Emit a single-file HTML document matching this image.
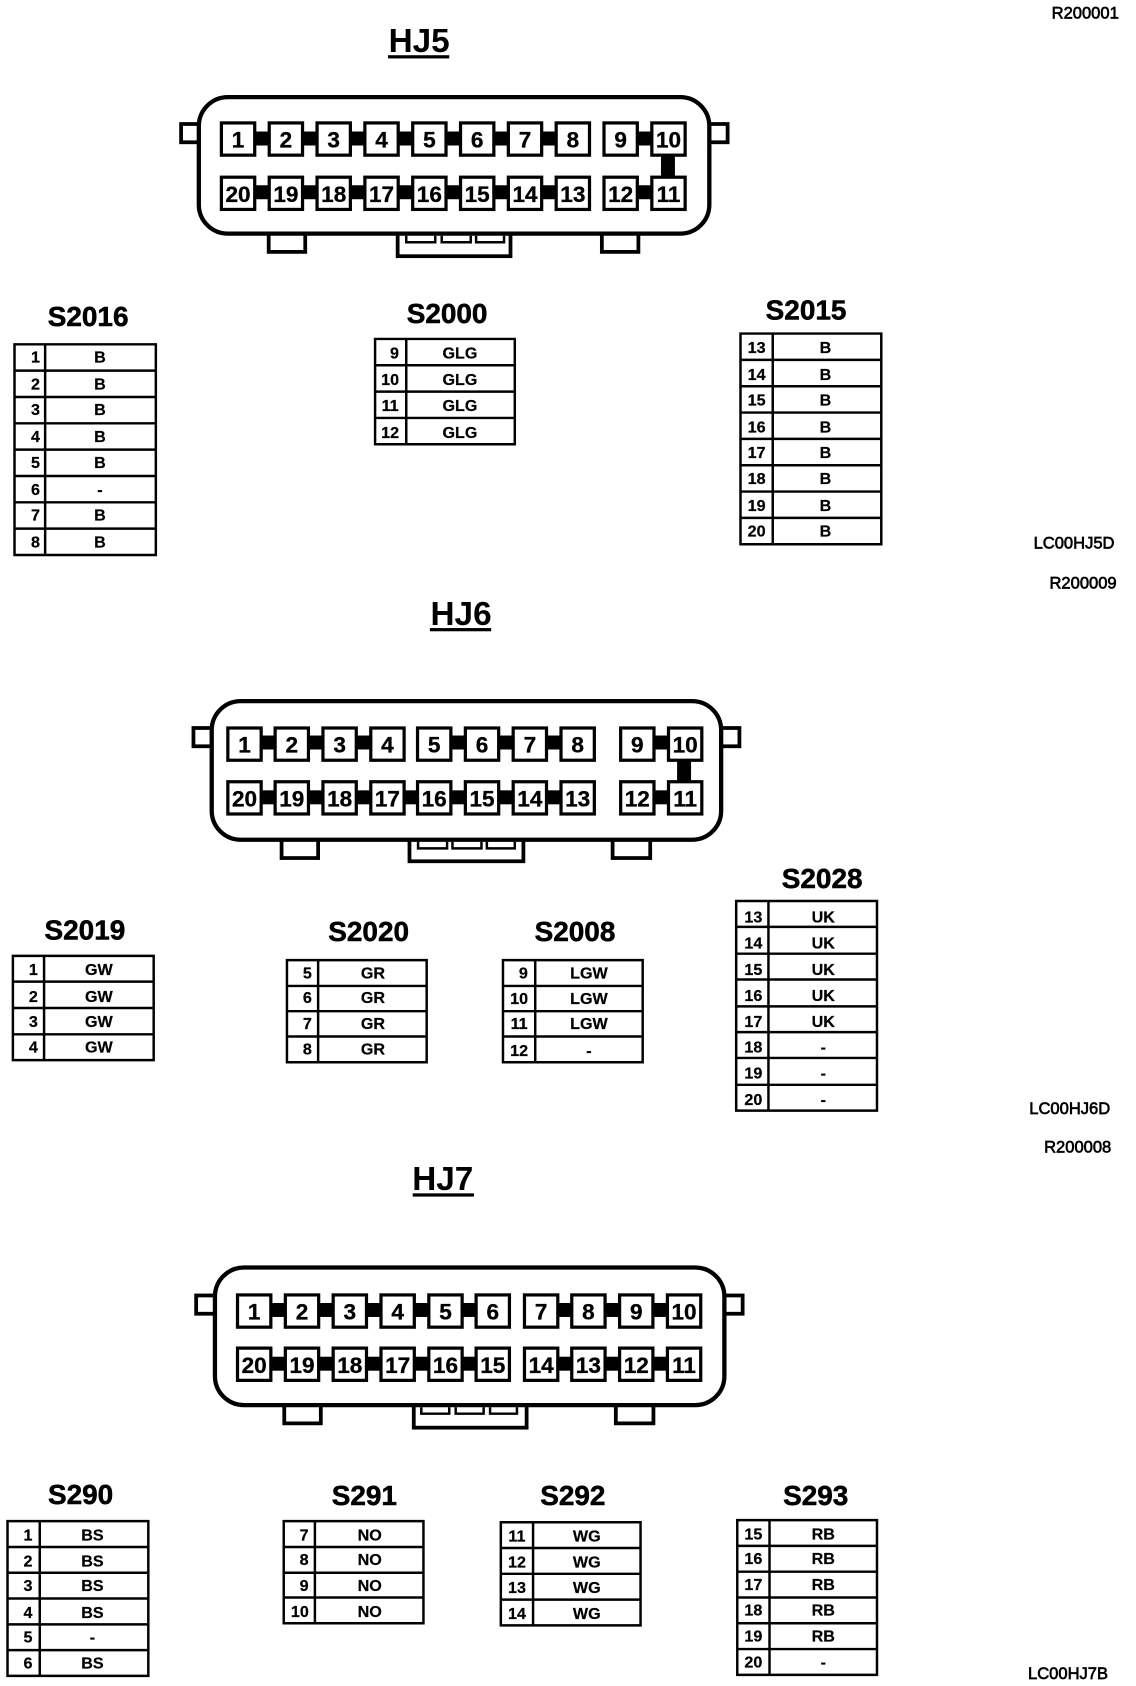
<!DOCTYPE html>
<html><head><meta charset="utf-8"><style>
html,body{margin:0;padding:0;background:#fff}
svg{display:block}
text{font-family:"Liberation Sans",sans-serif;font-weight:bold;fill:#000;text-anchor:middle}
.t{font-size:31px}.s{font-size:26px;stroke:#000;stroke-width:.5}
.c{font-size:15px;stroke:#000;stroke-width:.2}.l{font-size:15.4px;font-weight:normal;stroke:#000;stroke-width:.6;text-anchor:end}
.n{font-size:21px;stroke:#000;stroke-width:.3}
.p{width:31px;height:30px;fill:#fff;stroke:#000;stroke-width:3}
.b{fill:#fff;stroke:#000;stroke-width:4}
.k{fill:#fff;stroke:#000;stroke-width:3.5}
.g{fill:none;stroke:#000;stroke-width:2.3}
</style></head><body>
<svg xmlns="http://www.w3.org/2000/svg" width="1136" height="1686" viewBox="0 0 1057 1568">
<rect width="1057" height="1568" fill="#fff"/>
<!-- labels -->
<text class="l" x="1041" y="17">R200001</text>
<text class="l" x="1037" y="510">LC00HJ5D</text>
<text class="l" x="1039" y="547">R200009</text>
<text class="l" x="1033" y="1036">LC00HJ6D</text>
<text class="l" x="1034" y="1072">R200008</text>
<text class="l" x="1031" y="1562">LC00HJ7B</text>
<!-- HJ5 -->
<text class="t" x="390" y="48">HJ5</text><rect x="361" y="51" width="57" height="3"/>
<rect class="k" x="168.500" y="115" width="20" height="17"/><rect class="k" x="656" y="115" width="21" height="17"/>
<rect class="k" x="250" y="212" width="34" height="22"/><rect class="k" x="560" y="212" width="34" height="22"/>
<rect class="k" x="370" y="212" width="105" height="26"/>
<rect class="b" x="185" y="90" width="475" height="127" rx="27"/>
<path class="g" d="M378 219v6h27v-6M411 219v6h27v-6M443 219v6h26v-6" stroke-width="3"/>
<rect x="222" y="122" width="310" height="13"/><rect x="578" y="122" width="44" height="13"/>
<rect x="222" y="172" width="310" height="13"/><rect x="578" y="172" width="44" height="13"/>
<rect x="615" y="140" width="13" height="30"/>
<rect class="p" x="206" y="114"/><rect class="p" x="250.500" y="114"/><rect class="p" x="295" y="114"/><rect class="p" x="339.500" y="114"/><rect class="p" x="384" y="114"/><rect class="p" x="428.500" y="114"/><rect class="p" x="473" y="114"/><rect class="p" x="517.500" y="114"/><rect class="p" x="562" y="114"/><rect class="p" x="606.500" y="114"/>
<rect class="p" x="206" y="164.500"/><rect class="p" x="250.500" y="164.500"/><rect class="p" x="295" y="164.500"/><rect class="p" x="339.500" y="164.500"/><rect class="p" x="384" y="164.500"/><rect class="p" x="428.500" y="164.500"/><rect class="p" x="473" y="164.500"/><rect class="p" x="517.500" y="164.500"/><rect class="p" x="562" y="164.500"/><rect class="p" x="606.500" y="164.500"/>
<text class="n" x="221.500" y="137">1</text><text class="n" x="266" y="137">2</text><text class="n" x="310.500" y="137">3</text><text class="n" x="355" y="137">4</text><text class="n" x="399.500" y="137">5</text><text class="n" x="444" y="137">6</text><text class="n" x="488.500" y="137">7</text><text class="n" x="533" y="137">8</text><text class="n" x="577.500" y="137">9</text><text class="n" x="622" y="137">10</text>
<text class="n" x="221.500" y="187.500">20</text><text class="n" x="266" y="187.500">19</text><text class="n" x="310.500" y="187.500">18</text><text class="n" x="355" y="187.500">17</text><text class="n" x="399.500" y="187.500">16</text><text class="n" x="444" y="187.500">15</text><text class="n" x="488.500" y="187.500">14</text><text class="n" x="533" y="187.500">13</text><text class="n" x="577.500" y="187.500">12</text><text class="n" x="622" y="187.500">11</text>
<!-- HJ6 -->
<text class="t" x="429" y="581">HJ6</text><rect x="400" y="584" width="57" height="3"/>
<rect class="k" x="180" y="677" width="20" height="17"/><rect class="k" x="668" y="677" width="20" height="17"/>
<rect class="k" x="262" y="775" width="34" height="23"/><rect class="k" x="570" y="775" width="35" height="23"/>
<rect class="k" x="381" y="775" width="106" height="26"/>
<rect class="b" x="197" y="652" width="474" height="129" rx="27"/>
<path class="g" d="M389 783v6h27v-6M421 783v6h27v-6M453 783v6h26v-6" stroke-width="3"/>
<rect x="227" y="684" width="132" height="13"/><rect x="404" y="684" width="132" height="13"/><rect x="592" y="684" width="44" height="13"/>
<rect x="227" y="735" width="310" height="13"/><rect x="592" y="735" width="44" height="13"/>
<rect x="630" y="700" width="13" height="30"/>
<rect class="p" x="212" y="677"/><rect class="p" x="256" y="677"/><rect class="p" x="300.500" y="677"/><rect class="p" x="345" y="677"/><rect class="p" x="388.500" y="677"/><rect class="p" x="433" y="677"/><rect class="p" x="477.500" y="677"/><rect class="p" x="522" y="677"/><rect class="p" x="577.500" y="677"/><rect class="p" x="622" y="677"/>
<rect class="p" x="212" y="727"/><rect class="p" x="256" y="727"/><rect class="p" x="300.500" y="727"/><rect class="p" x="345" y="727"/><rect class="p" x="388.500" y="727"/><rect class="p" x="433" y="727"/><rect class="p" x="477.500" y="727"/><rect class="p" x="522" y="727"/><rect class="p" x="577.500" y="727"/><rect class="p" x="622" y="727"/>
<text class="n" x="227.500" y="700">1</text><text class="n" x="271.500" y="700">2</text><text class="n" x="316" y="700">3</text><text class="n" x="360.500" y="700">4</text><text class="n" x="404" y="700">5</text><text class="n" x="448.500" y="700">6</text><text class="n" x="493" y="700">7</text><text class="n" x="537.500" y="700">8</text><text class="n" x="593" y="700">9</text><text class="n" x="637.500" y="700">10</text>
<text class="n" x="227.500" y="750">20</text><text class="n" x="271.500" y="750">19</text><text class="n" x="316" y="750">18</text><text class="n" x="360.500" y="750">17</text><text class="n" x="404" y="750">16</text><text class="n" x="448.500" y="750">15</text><text class="n" x="493" y="750">14</text><text class="n" x="537.500" y="750">13</text><text class="n" x="593" y="750">12</text><text class="n" x="637.500" y="750">11</text>
<!-- HJ7 -->
<text class="t" x="412" y="1107">HJ7</text><rect x="384" y="1110" width="57" height="3"/>
<rect class="k" x="182.500" y="1205" width="20" height="17"/><rect class="k" x="671" y="1205" width="20" height="17"/>
<rect class="k" x="264.500" y="1301" width="34" height="23"/><rect class="k" x="573" y="1301" width="35" height="23"/>
<rect class="k" x="385" y="1301" width="105" height="27"/>
<rect class="b" x="200" y="1179" width="474" height="128" rx="27"/>
<path class="g" d="M392 1309v6h26v-6M424 1309v6h26v-6M456 1309v6h25v-6" stroke-width="3"/>
<rect x="237" y="1212" width="222" height="13"/><rect x="503" y="1212" width="133" height="13"/>
<rect x="237" y="1262" width="222" height="13"/><rect x="503" y="1262" width="133" height="13"/>
<rect class="p" x="221" y="1204.500"/><rect class="p" x="265.500" y="1204.500"/><rect class="p" x="310" y="1204.500"/><rect class="p" x="354.500" y="1204.500"/><rect class="p" x="399" y="1204.500"/><rect class="p" x="443" y="1204.500"/><rect class="p" x="488" y="1204.500"/><rect class="p" x="532" y="1204.500"/><rect class="p" x="576.500" y="1204.500"/><rect class="p" x="621" y="1204.500"/>
<rect class="p" x="221" y="1254"/><rect class="p" x="265.500" y="1254"/><rect class="p" x="310" y="1254"/><rect class="p" x="354.500" y="1254"/><rect class="p" x="399" y="1254"/><rect class="p" x="443" y="1254"/><rect class="p" x="488" y="1254"/><rect class="p" x="532" y="1254"/><rect class="p" x="576.500" y="1254"/><rect class="p" x="621" y="1254"/>
<text class="n" x="236.500" y="1227.500">1</text><text class="n" x="281" y="1227.500">2</text><text class="n" x="325.500" y="1227.500">3</text><text class="n" x="370" y="1227.500">4</text><text class="n" x="414.500" y="1227.500">5</text><text class="n" x="458.500" y="1227.500">6</text><text class="n" x="503.500" y="1227.500">7</text><text class="n" x="547.500" y="1227.500">8</text><text class="n" x="592" y="1227.500">9</text><text class="n" x="636.500" y="1227.500">10</text>
<text class="n" x="236.500" y="1277">20</text><text class="n" x="281" y="1277">19</text><text class="n" x="325.500" y="1277">18</text><text class="n" x="370" y="1277">17</text><text class="n" x="414.500" y="1277">16</text><text class="n" x="458.500" y="1277">15</text><text class="n" x="503.500" y="1277">14</text><text class="n" x="547.500" y="1277">13</text><text class="n" x="592" y="1277">12</text><text class="n" x="636.500" y="1277">11</text>
<!-- S2016 -->
<text class="s" x="82" y="303">S2016</text>
<path class="g" d="M13.500 320H145V516H13.500ZM42 320V516M13.500 344.500H145M13.500 369H145M13.500 393.500H145M13.500 418H145M13.500 442.500H145M13.500 467H145M13.500 491.500H145"/>
<text class="c" x="33" y="337">1</text><text class="c" x="93" y="337">B</text><text class="c" x="33" y="362">2</text><text class="c" x="93" y="362">B</text><text class="c" x="33" y="386">3</text><text class="c" x="93" y="386">B</text><text class="c" x="33" y="411">4</text><text class="c" x="93" y="411">B</text><text class="c" x="33" y="435">5</text><text class="c" x="93" y="435">B</text><text class="c" x="33" y="460">6</text><text class="c" x="93" y="460">-</text><text class="c" x="33" y="484">7</text><text class="c" x="93" y="484">B</text><text class="c" x="33" y="509">8</text><text class="c" x="93" y="509">B</text>
<!-- S2000 -->
<text class="s" x="416" y="300">S2000</text>
<path class="g" d="M349 315H479V413H349ZM378 315V413M349 339.500H479M349 364H479M349 388.500H479"/>
<text class="c" x="367" y="333">9</text><text class="c" x="428" y="333">GLG</text><text class="c" x="363" y="358">10</text><text class="c" x="428" y="358">GLG</text><text class="c" x="363" y="382">11</text><text class="c" x="428" y="382">GLG</text><text class="c" x="363" y="407">12</text><text class="c" x="428" y="407">GLG</text>
<!-- S2015 -->
<text class="s" x="750" y="297">S2015</text>
<path class="g" d="M689 310H820V506H689ZM719 310V506M689 334.500H820M689 359H820M689 383.500H820M689 408H820M689 432.500H820M689 457H820M689 481.500H820"/>
<text class="c" x="704" y="328">13</text><text class="c" x="768" y="328">B</text><text class="c" x="704" y="353">14</text><text class="c" x="768" y="353">B</text><text class="c" x="704" y="377">15</text><text class="c" x="768" y="377">B</text><text class="c" x="704" y="402">16</text><text class="c" x="768" y="402">B</text><text class="c" x="704" y="426">17</text><text class="c" x="768" y="426">B</text><text class="c" x="704" y="450">18</text><text class="c" x="768" y="450">B</text><text class="c" x="704" y="475">19</text><text class="c" x="768" y="475">B</text><text class="c" x="704" y="499">20</text><text class="c" x="768" y="499">B</text>
<!-- S2019 -->
<text class="s" x="79" y="874">S2019</text>
<path class="g" d="M12 889H143V986H12ZM41 889V986M12 913H143M12 937.500H143M12 962H143"/>
<text class="c" x="31" y="907">1</text><text class="c" x="92" y="907">GW</text><text class="c" x="31" y="932">2</text><text class="c" x="92" y="932">GW</text><text class="c" x="31" y="955">3</text><text class="c" x="92" y="955">GW</text><text class="c" x="31" y="979">4</text><text class="c" x="92" y="979">GW</text>
<!-- S2020 -->
<text class="s" x="343" y="875">S2020</text>
<path class="g" d="M267 893H397V988H267ZM296 893V988M267 917H397M267 940.500H397M267 964H397"/>
<text class="c" x="286" y="910">5</text><text class="c" x="347" y="910">GR</text><text class="c" x="286" y="933">6</text><text class="c" x="347" y="933">GR</text><text class="c" x="286" y="957">7</text><text class="c" x="347" y="957">GR</text><text class="c" x="286" y="981">8</text><text class="c" x="347" y="981">GR</text>
<!-- S2008 -->
<text class="s" x="535" y="875">S2008</text>
<path class="g" d="M468 893H598V988H468ZM498 893V988M468 917H598M468 940.500H598M468 964H598"/>
<text class="c" x="487" y="910">9</text><text class="c" x="548" y="910">LGW</text><text class="c" x="483" y="934">10</text><text class="c" x="548" y="934">LGW</text><text class="c" x="483" y="957">11</text><text class="c" x="548" y="957">LGW</text><text class="c" x="483" y="982">12</text><text class="c" x="548" y="982">-</text>
<!-- S2028 -->
<text class="s" x="765" y="826">S2028</text>
<path class="g" d="M685 838H816V1033H685ZM715 838V1033M685 862H816M685 887H816M685 911H816M685 936H816M685 960H816M685 984H816M685 1009H816"/>
<text class="c" x="701" y="858">13</text><text class="c" x="766" y="858">UK</text><text class="c" x="701" y="882">14</text><text class="c" x="766" y="882">UK</text><text class="c" x="701" y="907">15</text><text class="c" x="766" y="907">UK</text><text class="c" x="701" y="931">16</text><text class="c" x="766" y="931">UK</text><text class="c" x="701" y="955">17</text><text class="c" x="766" y="955">UK</text><text class="c" x="701" y="979">18</text><text class="c" x="766" y="979">-</text><text class="c" x="701" y="1003">19</text><text class="c" x="766" y="1003">-</text><text class="c" x="701" y="1028">20</text><text class="c" x="766" y="1028">-</text>
<!-- S290 -->
<text class="s" x="75" y="1399">S290</text>
<path class="g" d="M7 1415H138V1559H7ZM37 1415V1559M7 1439H138M7 1463H138M7 1487H138M7 1511H138M7 1535H138"/>
<text class="c" x="26" y="1433">1</text><text class="c" x="86" y="1433">BS</text><text class="c" x="26" y="1457">2</text><text class="c" x="86" y="1457">BS</text><text class="c" x="26" y="1480">3</text><text class="c" x="86" y="1480">BS</text><text class="c" x="26" y="1505">4</text><text class="c" x="86" y="1505">BS</text><text class="c" x="26" y="1528">5</text><text class="c" x="86" y="1528">-</text><text class="c" x="26" y="1552">6</text><text class="c" x="86" y="1552">BS</text>
<!-- S291 -->
<text class="s" x="339" y="1400">S291</text>
<path class="g" d="M264 1415H394V1510H264ZM293 1415V1510M264 1439H394M264 1463H394M264 1486H394"/>
<text class="c" x="283" y="1433">7</text><text class="c" x="344" y="1433">NO</text><text class="c" x="283" y="1456">8</text><text class="c" x="344" y="1456">NO</text><text class="c" x="283" y="1480">9</text><text class="c" x="344" y="1480">NO</text><text class="c" x="279" y="1504">10</text><text class="c" x="344" y="1504">NO</text>
<!-- S292 -->
<text class="s" x="533" y="1400">S292</text>
<path class="g" d="M466 1416H596V1512H466ZM496 1416V1512M466 1440H596M466 1464H596M466 1488H596"/>
<text class="c" x="481" y="1434">11</text><text class="c" x="546" y="1434">WG</text><text class="c" x="481" y="1458">12</text><text class="c" x="546" y="1458">WG</text><text class="c" x="481" y="1482">13</text><text class="c" x="546" y="1482">WG</text><text class="c" x="481" y="1506">14</text><text class="c" x="546" y="1506">WG</text>
<!-- S293 -->
<text class="s" x="759" y="1400">S293</text>
<path class="g" d="M686 1414H816V1558H686ZM716 1414V1558M686 1438H816M686 1462H816M686 1486H816M686 1510H816M686 1534H816"/>
<text class="c" x="701" y="1432">15</text><text class="c" x="766" y="1432">RB</text><text class="c" x="701" y="1455">16</text><text class="c" x="766" y="1455">RB</text><text class="c" x="701" y="1479">17</text><text class="c" x="766" y="1479">RB</text><text class="c" x="701" y="1503">18</text><text class="c" x="766" y="1503">RB</text><text class="c" x="701" y="1527">19</text><text class="c" x="766" y="1527">RB</text><text class="c" x="701" y="1551">20</text><text class="c" x="766" y="1551">-</text>
</svg>
</body></html>
